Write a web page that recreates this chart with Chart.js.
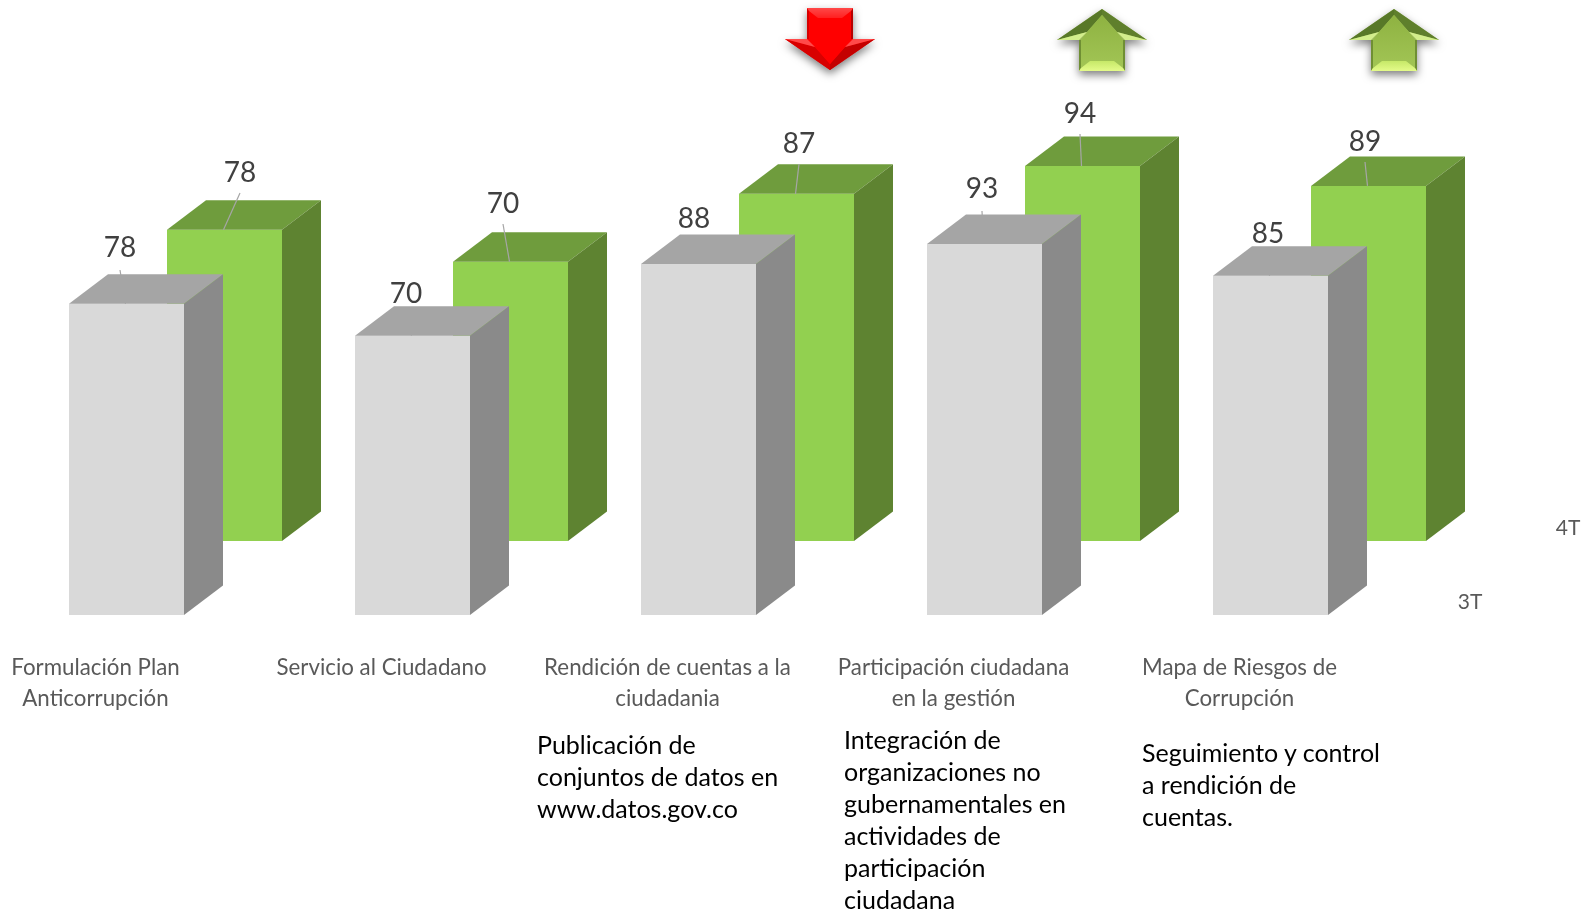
<!DOCTYPE html>
<html lang="es">
<head>
<meta charset="utf-8">
<style>
html,body{margin:0;padding:0;background:#fff;width:1594px;height:912px;overflow:hidden}
#wrap{position:relative;width:1594px;height:912px}
canvas{position:absolute;left:0;top:0}
.note{position:absolute;font-family:Lato,sans-serif;font-size:25px;line-height:32px;color:#000;white-space:nowrap}
</style>
</head>
<body>
<div id="wrap">
<canvas id="c" width="1594" height="912"></canvas>
<div class="note" style="left:537px;top:728px">Publicación de<br>conjuntos de datos en<br>www.datos.gov.co</div>
<div class="note" style="left:844px;top:723px">Integración de<br>organizaciones no<br>gubernamentales en<br>actividades de<br>participación<br>ciudadana</div>
<div class="note" style="left:1142px;top:736px">Seguimiento y control<br>a rendición de<br>cuentas.</div>
</div>
<script src="https://cdn.jsdelivr.net/npm/chart.js@4/dist/chart.umd.js"></script>
<script>
const categories = [
  ["Formulación Plan", "Anticorrupción"],
  ["Servicio al Ciudadano"],
  ["Rendición de cuentas a la", "ciudadania"],
  ["Participación ciudadana", "en la gestión"],
  ["Mapa de Riesgos de", "Corrupción"]
];
const seriesNames = ["3T", "4T"];
const values3T = [78, 70, 88, 93, 85];
const values4T = [78, 70, 87, 94, 89];

const DEPTH_X = 39, DEPTH_Y = 29.5;
const UNITS_SHIFT = 74 / 3.99;          // green row sits one depth step behind
const faces = [
  { front: "#d9d9d9", top: "#a5a5a5", side: "#8a8a8a" },
  { front: "#92d050", top: "#6f9c3d", side: "#5e8331" }
];
// value label centres for each series (layout only)
const labelPos = [
  [[120, 248], [406, 294], [694, 219], [982, 189], [1268, 234]],
  [[240, 173], [503, 204], [799, 144], [1080, 114], [1365, 142]]
];

function poly(ctx, pts, fill) {
  ctx.beginPath();
  pts.forEach((p, i) => i ? ctx.lineTo(p[0], p[1]) : ctx.moveTo(p[0], p[1]));
  ctx.closePath();
  ctx.fillStyle = fill;
  ctx.fill();
}

function drawArrow(ctx, cx, yTip, d, c) {
  // d = 1 for an arrow pointing up, -1 pointing down; local points are [dx, distance from tip]
  const P = (dx, v) => [cx + dx, yTip + d * v];
  ctx.save();
  ctx.shadowColor = "rgba(0,0,0,0.5)";
  ctx.shadowBlur = 8;
  ctx.shadowOffsetY = 4;
  poly(ctx, [P(0,0), P(45,31), P(23,31), P(23,62), P(-23,62), P(-23,31), P(-45,31)], c.body);
  ctx.restore();
  // head edges
  poly(ctx, [P(0,0), P(45,31), P(15,23), P(0,6)], c.tipR);
  poly(ctx, [P(0,0), P(-45,31), P(-15,23), P(0,6)], c.tipL);
  // main body
  const g = ctx.createLinearGradient(0, 9, 0, 71);
  g.addColorStop(0, c.g0); g.addColorStop(1, c.g1);
  poly(ctx, [P(0,6), P(15,23), P(21,31), P(21,59), P(12,52), P(-12,52), P(-21,59), P(-21,31), P(-15,23)], g);
  // wing highlights
  poly(ctx, [P(45,31), P(15,23), P(23,31)], c.wing);
  poly(ctx, [P(-45,31), P(-15,23), P(-23,31)], c.wing);
  // stem edges
  poly(ctx, [P(23,31), P(23,62), P(21,59), P(21,31)], c.stemR);
  poly(ctx, [P(-23,31), P(-23,62), P(-21,59), P(-21,31)], c.stemL);
  // end bevel
  const e = ctx.createLinearGradient(0, yTip + d * 52, 0, yTip + d * 62);
  e.addColorStop(0, c.end0); e.addColorStop(1, c.end1);
  poly(ctx, [P(23,62), P(21,59), P(12,52), P(-12,52), P(-21,59), P(-23,62)], e);
}

const arrowRed = { body: "#f00", g0: "#ff0000", g1: "#ff0000", tipR: "#c40000", tipL: "#d80000", wing: "#ff4a4a", stemR: "#b80000", stemL: "#d80000", end0: "#ff2020", end1: "#ff4848" };
const arrowGreen = { body: "#9bbb59", g0: "#8cb03f", g1: "#a3c656", tipR: "#5f7f2c", tipL: "#587828", wing: "#d3ee8c", stemR: "#6f8f33", stemL: "#6f8f33", end0: "#c6e868", end1: "#e4fb8a" };

const faces3d = {
  id: "faces3d",
  afterDatasetDraw(chart, args) {
    const ctx = chart.ctx, s = args.index, f = faces[s];
    ctx.save();
    args.meta.data.forEach((bar, i) => {
      const half = bar.width / 2, L = bar.x - half, R = bar.x + half, T = bar.y, B = bar.base;
      if (s === 0) {
        const lp = labelPos[s][i];
        ctx.strokeStyle = "#a6a6a6"; ctx.lineWidth = 1.2;
        ctx.beginPath(); ctx.moveTo(lp[0], lp[1] + 22); ctx.lineTo(bar.x - 1, T); ctx.stroke();
      }
      poly(ctx, [[L, T], [R, T], [R + DEPTH_X, T - DEPTH_Y], [L + DEPTH_X, T - DEPTH_Y]], f.top);
      poly(ctx, [[R, T], [R + DEPTH_X, T - DEPTH_Y], [R + DEPTH_X, B - DEPTH_Y], [R, B]], f.side);
      if (s === 1) {
        const lp = labelPos[s][i];
        ctx.strokeStyle = "#a6a6a6"; ctx.lineWidth = 1.2;
        ctx.beginPath(); ctx.moveTo(lp[0], lp[1] + 20); ctx.lineTo(bar.x - 1, T); ctx.stroke();
      }
    });
    ctx.restore();
  },
  afterDatasetsDraw(chart) {
    const ctx = chart.ctx;
    const sets = [values3T, values4T];
    ctx.save();
    ctx.font = "28px Lato, sans-serif";
    ctx.fillStyle = "#404040";
    ctx.textAlign = "center";
    ctx.textBaseline = "middle";
    sets.forEach((vals, s) => vals.forEach((v, i) => {
      ctx.fillText(String(v), labelPos[s][i][0], labelPos[s][i][1]);
    }));
    ctx.font = "21px Lato, sans-serif";
    ctx.fillStyle = "#595959";
    ctx.fillText(seriesNames[0], 1470, 602);
    ctx.fillText(seriesNames[1], 1568, 528);
    ctx.restore();
    drawArrow(ctx, 830, 70, -1, arrowRed);
    drawArrow(ctx, 1102, 9, 1, arrowGreen);
    drawArrow(ctx, 1394, 9, 1, arrowGreen);
  }
};

new Chart(document.getElementById("c"), {
  type: "bar",
  data: {
    labels: categories,
    datasets: [
      { label: seriesNames[0], data: values3T, backgroundColor: faces[0].front, yAxisID: "y" },
      { label: seriesNames[1], data: values4T, backgroundColor: faces[1].front, yAxisID: "y2" }
    ]
  },
  plugins: [faces3d],
  options: {
    responsive: false,
    animation: false,
    layout: { padding: { left: 32.5, right: 131.5, top: 16.5, bottom: 0 } },
    datasets: { bar: { categoryPercentage: 196 / 286, barPercentage: 115 / 98, borderWidth: 0 } },
    plugins: { legend: { display: false }, title: { display: false }, tooltip: { enabled: false } },
    scales: {
      x: {
        type: "category",
        grid: { display: false, drawBorder: false },
        border: { display: false },
        ticks: {
          autoSkip: false, maxRotation: 0, minRotation: 0,
          padding: 30, labelOffset: -80,
          color: "#595959",
          font: { family: "Lato, sans-serif", size: 22.3, lineHeight: 1.37 }
        },
        afterFit(scale) { scale.height = 297; scale.paddingLeft = 0; scale.paddingRight = 0; }
      },
      y: { display: false, min: 0, max: 150 },
      y2: { display: false, min: -UNITS_SHIFT, max: 150 - UNITS_SHIFT }
    }
  }
});
</script>
</body>
</html>
